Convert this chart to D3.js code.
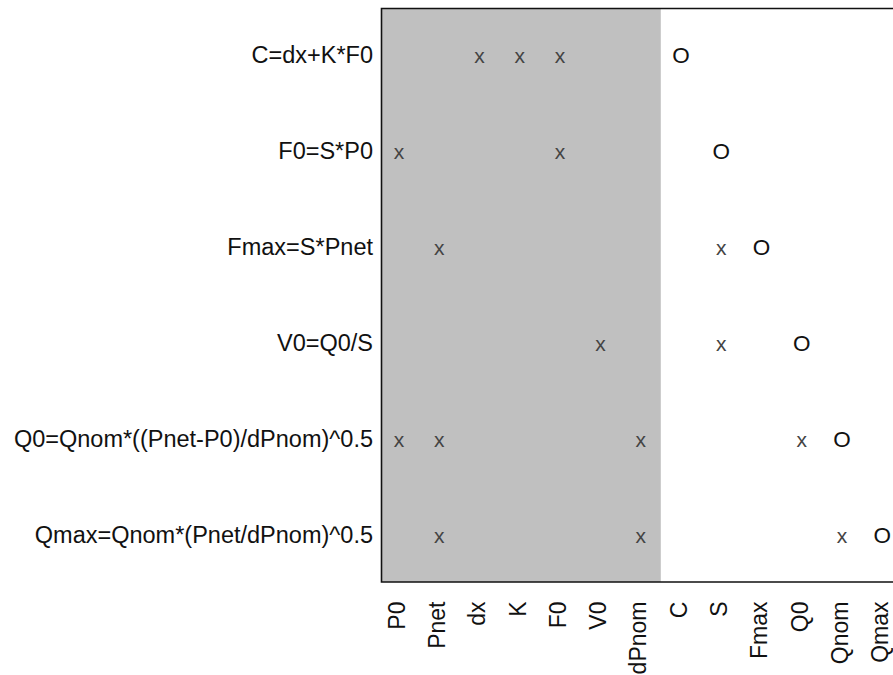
<!DOCTYPE html>
<html>
<head>
<meta charset="utf-8">
<script src="https://cdn.jsdelivr.net/npm/d3@7"></script>
<style>
  html, body { margin: 0; padding: 0; background: #fff; overflow: hidden; }
  svg { display: block; font-family: "Liberation Sans", Arial, sans-serif; }
</style>
</head>
<body>
<svg id="chart" width="893" height="675"></svg>
<script>
// ---- data ----
const equations = [
  "C=dx+K*F0",
  "F0=S*P0",
  "Fmax=S*Pnet",
  "V0=Q0/S",
  "Q0=Qnom*((Pnet-P0)/dPnom)^0.5",
  "Qmax=Qnom*(Pnet/dPnom)^0.5"
];
const variables = ["P0","Pnet","dx","K","F0","V0","dPnom","C","S","Fmax","Q0","Qnom","Qmax"];
const knownVariables = ["P0","Pnet","dx","K","F0","V0","dPnom"];
// variables used ("x") per equation
const usedVars = [
  ["dx","K","F0"],
  ["P0","F0"],
  ["Pnet","S"],
  ["V0","S"],
  ["P0","Pnet","dPnom","Q0"],
  ["Pnet","dPnom","Qnom"]
];
// solved variable ("O") per equation
const solvedVar = ["C","S","Fmax","Q0","Qnom","Qmax"];

// ---- layout ----
const svg = d3.select("#chart");
const W = 893, H = 675;
const plotLeft = 381.5, plotTop = 8.5, plotBottom = 582;

const x = d3.scalePoint().domain(variables).range([399, 882.3]);
const y = d3.scalePoint().domain(equations).range([62.7, 543.3]);
const step = x.step();

// shaded region for known variables
const lastKnown = knownVariables[knownVariables.length - 1];
svg.append("rect")
  .attr("x", plotLeft)
  .attr("y", plotTop)
  .attr("width", x(lastKnown) + step / 2 - plotLeft)
  .attr("height", plotBottom - plotTop)
  .attr("fill", "#c0c0c0");

// frame (right side runs off the canvas)
svg.append("path")
  .attr("d", `M${W + 20},${plotTop} H${plotLeft} V${plotBottom} H${W + 20}`)
  .attr("fill", "none")
  .attr("stroke", "#111")
  .attr("stroke-width", 1.6);

// row labels (equations)
svg.append("g").selectAll("text")
  .data(equations)
  .join("text")
  .attr("x", 373)
  .attr("y", d => y(d))
  .attr("text-anchor", "end")
  .attr("font-size", 23.5)
  .attr("fill", "#111")
  .text(d => d);

// column labels (variables), rotated
svg.append("g").selectAll("text")
  .data(variables)
  .join("text")
  .attr("transform", d => `translate(${x(d)},601.5) rotate(-90)`)
  .attr("text-anchor", "end")
  .attr("dy", "0.25em")
  .attr("font-size", 23)
  .attr("fill", "#111")
  .text(d => d);

// "x" marks
const xMarks = [];
usedVars.forEach((vs, i) => vs.forEach(v => xMarks.push({eq: equations[i], v})));
svg.append("g").selectAll("text")
  .data(xMarks)
  .join("text")
  .attr("x", d => x(d.v))
  .attr("y", d => y(d.eq))
  .attr("text-anchor", "middle")
  .attr("font-size", 21)
  .attr("fill", "#444")
  .text("x");

// "O" marks
svg.append("g").selectAll("text")
  .data(solvedVar.map((v, i) => ({eq: equations[i], v})))
  .join("text")
  .attr("x", d => x(d.v))
  .attr("y", d => y(d.eq))
  .attr("text-anchor", "middle")
  .attr("font-size", 22.5)
  .attr("fill", "#111")
  .text("O");
</script>
</body>
</html>
